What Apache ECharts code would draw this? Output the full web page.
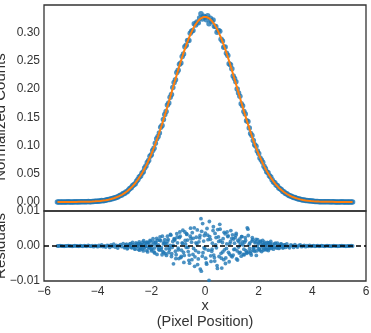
<!DOCTYPE html>
<html>
<head>
<meta charset="utf-8">
<script src="https://cdn.jsdelivr.net/npm/echarts@6/dist/echarts.min.js"></script>
<style>html,body{margin:0;padding:0;background:#fff;}#c{width:371px;height:333px;}</style>
</head>
<body>
<div id="c"></div>
<script>
const xGrid = [-5.5,-5.45,-5.4,-5.35,-5.3,-5.25,-5.2,-5.15,-5.1,-5.05,-5,-4.95,-4.9,-4.85,-4.8,-4.75,-4.7,-4.65,-4.6,-4.55,-4.5,-4.45,-4.4,-4.35,-4.3,-4.25,-4.2,-4.15,-4.1,-4.05,-4,
-3.95,-3.9,-3.85,-3.8,-3.75,-3.7,-3.65,-3.6,-3.55,-3.5,-3.45,-3.4,-3.35,-3.3,-3.25,-3.2,-3.15,-3.1,-3.05,-3,
-2.95,-2.9,-2.85,-2.8,-2.75,-2.7,-2.65,-2.6,-2.55,-2.5,-2.45,-2.4,-2.35,-2.3,-2.25,-2.2,-2.15,-2.1,-2.05,-2,
-1.95,-1.9,-1.85,-1.8,-1.75,-1.7,-1.65,-1.6,-1.55,-1.5,-1.45,-1.4,-1.35,-1.3,-1.25,-1.2,-1.15,-1.1,-1.05,-1,
-0.95,-0.9,-0.85,-0.8,-0.75,-0.7,-0.65,-0.6,-0.55,-0.5,-0.45,-0.4,-0.35,-0.3,-0.25,-0.2,-0.15,-0.1,-0.05,0,
0.05,0.1,0.15,0.2,0.25,0.3,0.35,0.4,0.45,0.5,0.55,0.6,0.65,0.7,0.75,0.8,0.85,0.9,0.95,1,
1.05,1.1,1.15,1.2,1.25,1.3,1.35,1.4,1.45,1.5,1.55,1.6,1.65,1.7,1.75,1.8,1.85,1.9,1.95,2,
2.05,2.1,2.15,2.2,2.25,2.3,2.35,2.4,2.45,2.5,2.55,2.6,2.65,2.7,2.75,2.8,2.85,2.9,2.95,3,
3.05,3.1,3.15,3.2,3.25,3.3,3.35,3.4,3.45,3.5,3.55,3.6,3.65,3.7,3.75,3.8,3.85,3.9,3.95,4,
4.05,4.1,4.15,4.2,4.25,4.3,4.35,4.4,4.45,4.5,4.55,4.6,4.65,4.7,4.75,4.8,4.85,4.9,4.95,5,5.05,5.1,5.15,5.2,5.25,5.3,5.35,5.4,5.45,5.5];

const fitY = [0,0,0,0,0,0,0,0,0.0001,0.0001,0.0001,0.0001,0.0001,0.0001,0.0001,0.0002,0.0002,0.0002,0.0003,0.0003,0.0003,0.0004,0.0005,0.0005,0.0006,0.0007,0.0008,0.0010,0.0011,0.0013,0.0015,
0.0017,0.0019,0.0022,0.0025,0.0028,0.0032,0.0036,0.0041,0.0046,0.0052,0.0059,0.0066,0.0074,0.0083,0.0092,0.0103,0.0115,0.0127,0.0141,0.0156,
0.0173,0.0191,0.0211,0.0232,0.0254,0.0279,0.0305,0.0334,0.0364,0.0396,0.0431,0.0468,0.0507,0.0548,0.0592,0.0639,0.0687,0.0739,0.0792,0.0848,
0.0907,0.0968,0.1031,0.1097,0.1165,0.1235,0.1307,0.1380,0.1456,0.1533,0.1611,0.1691,0.1771,0.1852,0.1934,0.2016,0.2098,0.2179,0.2260,0.2339,
0.2418,0.2494,0.2569,0.2642,0.2712,0.2779,0.2843,0.2904,0.2961,0.3014,0.3063,0.3107,0.3147,0.3182,0.3211,0.3236,0.3255,0.3269,0.3277,0.3280,
0.3277,0.3269,0.3255,0.3236,0.3211,0.3182,0.3147,0.3107,0.3063,0.3014,0.2961,0.2904,0.2843,0.2779,0.2712,0.2642,0.2569,0.2494,0.2418,0.2339,
0.2260,0.2179,0.2098,0.2016,0.1934,0.1852,0.1771,0.1691,0.1611,0.1533,0.1456,0.1380,0.1307,0.1235,0.1165,0.1097,0.1031,0.0968,0.0907,0.0848,
0.0792,0.0739,0.0687,0.0639,0.0592,0.0548,0.0507,0.0468,0.0431,0.0396,0.0364,0.0334,0.0305,0.0279,0.0254,0.0232,0.0211,0.0191,0.0173,0.0156,
0.0141,0.0127,0.0115,0.0103,0.0092,0.0083,0.0074,0.0066,0.0059,0.0052,0.0046,0.0041,0.0036,0.0032,0.0028,0.0025,0.0022,0.0019,0.0017,0.0015,
0.0013,0.0011,0.0010,0.0008,0.0007,0.0006,0.0005,0.0005,0.0004,0.0003,0.0003,0.0003,0.0002,0.0002,0.0002,0.0001,0.0001,0.0001,0.0001,0.0001,0.0001,0.0001,0,0,0,0,0,0,0,0];

const dataY = [0,0,0.0001,0,0,-0.0001,0,0,0.0002,0.0001,0.0001,0,0.0001,0.0002,0.0001,0.0002,0.0001,0.0003,0.0003,0.0002,0.0004,0.0004,0.0004,0.0007,0.0006,0.0006,0.0009,0.0008,0.0012,0.0013,0.0013,
0.0019,0.0018,0.0025,0.0023,0.0028,0.0029,0.0038,0.0042,0.0042,0.0055,0.0058,0.0071,0.0071,0.0085,0.0086,0.0104,0.0119,0.0125,0.0148,0.0151,
0.0176,0.0183,0.0212,0.0238,0.0250,0.0289,0.0303,0.0325,0.0369,0.0396,0.0443,0.0461,0.0510,0.0534,0.0600,0.0638,0.0698,0.0733,0.0808,0.0838,
0.0911,0.0951,0.1040,0.1119,0.1162,0.1223,0.1322,0.1355,0.1462,0.1551,0.1603,0.1719,0.1752,0.1854,0.1904,0.2029,0.2119,0.2164,0.2295,0.2333,
0.2442,0.2461,0.2578,0.2624,0.2752,0.2775,0.2860,0.2863,0.2989,0.3025,0.3039,0.3159,0.3134,0.3188,0.3174,0.3259,0.3333,0.3240,0.3291,0.3272,
0.3229,0.3300,0.3157,0.3255,0.3196,0.3226,0.3114,0.3110,0.3007,0.3040,0.3023,0.2883,0.2853,0.2740,0.2747,0.2635,0.2596,0.2449,0.2431,0.2361,
0.2234,0.2187,0.2129,0.2002,0.1931,0.1872,0.1742,0.1703,0.1602,0.1557,0.1438,0.1428,0.1312,0.1214,0.1179,0.1091,0.1016,0.0987,0.0905,0.0858,
0.0779,0.0743,0.0703,0.0631,0.0593,0.0537,0.0516,0.0463,0.0444,0.0394,0.0355,0.0340,0.0301,0.0287,0.0247,0.0234,0.0216,0.0185,0.0176,0.0152,
0.0147,0.0125,0.0110,0.0106,0.0093,0.0079,0.0078,0.0065,0.0056,0.0054,0.0049,0.0039,0.0036,0.0034,0.0026,0.0026,0.0021,0.0021,0.0016,0.0015,
0.0014,0.0010,0.0010,0.0009,0.0006,0.0006,0.0006,0.0005,0.0003,0.0003,0.0004,0.0003,0.0002,0.0001,0.0002,0.0002,0.0001,0.0001,0,0.0001,0.0001,0.0002,0,0,-0.0001,0,0,0,0.0001,0];

const residY = [0,0,0.0001,0,0,-0.0001,0,0,0.0001,0,0,-0.0001,0,0.0001,0,0,-0.0001,0.0001,0,-0.0001,0.0001,0,-0.0001,0.0002,0,-0.0001,0.0001,-0.0002,0.0001,0,-0.0002,
0.0002,-0.0001,0.0003,-0.0002,0,-0.0003,0.0002,0.0001,-0.0004,0.0003,-0.0001,0.0005,-0.0003,0.0002,-0.0006,0.0001,0.0004,-0.0002,0.0007,-0.0005,
0.0003,-0.0008,0.0001,0.0006,-0.0004,0.0010,-0.0002,-0.0009,0.0005,0,0.0012,-0.0007,0.0003,-0.0014,0.0008,-0.0001,0.0011,-0.0006,0.0016,-0.0010,
0.0004,-0.0017,0.0009,0.0022,-0.0003,-0.0012,0.0015,-0.0025,0.0006,0.0018,-0.0008,0.0028,-0.0019,0.0002,-0.0030,0.0013,0.0021,-0.0015,0.0035,-0.0006,
0.0024,-0.0033,0.0009,-0.0018,0.0040,-0.0004,0.0017,-0.0041,0.0028,0.0011,-0.0024,0.0052,-0.0013,0.0006,-0.0037,0.0023,0.0078,-0.0029,0.0014,-0.0008,
-0.0048,0.0031,-0.0098,0.0019,-0.0015,0.0044,-0.0033,0.0003,-0.0056,0.0026,0.0062,-0.0021,0.0010,-0.0039,0.0035,-0.0007,0.0027,-0.0045,0.0013,0.0022,
-0.0026,0.0008,0.0031,-0.0014,-0.0003,0.0020,-0.0029,0.0012,-0.0009,0.0024,-0.0018,0.0048,0.0005,-0.0021,0.0014,-0.0006,-0.0015,0.0019,-0.0002,0.0010,
-0.0013,0.0004,0.0016,-0.0008,0.0001,-0.0011,0.0009,-0.0005,0.0013,-0.0002,-0.0009,0.0006,-0.0004,0.0008,-0.0007,0.0002,0.0005,-0.0006,0.0003,-0.0004,
0.0006,-0.0002,-0.0005,0.0003,0.0001,-0.0004,0.0004,-0.0001,-0.0003,0.0002,0.0003,-0.0002,0,0.0002,-0.0002,0.0001,-0.0001,0.0002,-0.0001,0,
0.0001,-0.0001,0,0.0001,-0.0001,0,0.0001,0,-0.0001,0,0.0001,0,0,-0.0001,0,0.0001,0,0,-0.0001,0,0,0.0001,0,0,-0.0001,0,0,0,0.0001,0];

const xOff = [-2.975,-2.925,-2.875,-2.825,-2.775,-2.725,-2.675,-2.625,-2.575,-2.525,
-2.475,-2.425,-2.375,-2.325,-2.275,-2.225,-2.175,-2.125,-2.075,-2.025,
-1.975,-1.925,-1.875,-1.825,-1.775,-1.725,-1.675,-1.625,-1.575,-1.525,
-1.475,-1.425,-1.375,-1.325,-1.275,-1.225,-1.175,-1.125,-1.075,-1.025,
-0.975,-0.925,-0.875,-0.825,-0.775,-0.725,-0.675,-0.625,-0.575,-0.525,
-0.475,-0.425,-0.375,-0.325,-0.275,-0.225,-0.175,-0.125,-0.075,-0.025,
0.025,0.075,0.125,0.175,0.225,0.275,0.325,0.375,0.425,0.475,
0.525,0.575,0.625,0.675,0.725,0.775,0.825,0.875,0.925,0.975,
1.025,1.075,1.125,1.175,1.225,1.275,1.325,1.375,1.425,1.475,
1.525,1.575,1.625,1.675,1.725,1.775,1.825,1.875,1.925,1.975,
2.025,2.075,2.125,2.175,2.225,2.275,2.325,2.375,2.425,2.475,
2.525,2.575,2.625,2.675,2.725,2.775,2.825,2.875,2.925,2.975];

const residOff = [-0.0003,0.0005,-0.0006,0.0002,0.0007,-0.0005,0.0003,-0.0008,0.0009,-0.0001,
-0.0010,0.0006,-0.0003,0.0011,-0.0006,0.0002,-0.0013,0.0009,-0.0004,0.0014,
-0.0008,0.0012,-0.0020,0.0003,0.0016,-0.0009,0.0026,-0.0005,-0.0016,0.0010,
-0.0022,0.0007,0.0019,-0.0011,0.0031,-0.0004,-0.0051,0.0017,-0.0025,0.0009,
-0.0036,0.0028,-0.0012,0.0045,-0.0027,0.0006,0.0033,-0.0016,-0.0049,0.0021,
0.0038,-0.0007,-0.0031,0.0025,-0.0053,0.0012,-0.0066,0.0042,-0.0019,0.0030,
-0.0035,0.0050,-0.0012,0.0027,-0.0044,0.0008,-0.0026,0.0036,-0.0005,0.0047,
-0.0030,0.0015,-0.0063,0.0021,-0.0011,-0.0034,0.0040,-0.0018,0.0007,-0.0028,
0.0032,-0.0010,0.0024,-0.0037,0.0016,-0.0020,0.0005,0.0027,-0.0024,0.0011,
-0.0013,0.0052,-0.0017,0.0009,-0.0026,0.0018,-0.0004,0.0012,-0.0014,0.0006,
-0.0009,0.0013,-0.0003,-0.0012,0.0007,-0.0006,0.0010,-0.0008,0.0004,-0.0007,
0.0005,-0.0003,0.0008,-0.0006,0.0002,-0.0005,0.0006,-0.0002,-0.0004,0.0003];

const xOff2 = [-2.4875,-2.4375,-2.3875,-2.3375,-2.2875,-2.2375,-2.1875,-2.1375,-2.0875,-2.0375,
-1.9875,-1.9375,-1.8875,-1.8375,-1.7875,-1.7375,-1.6875,-1.6375,-1.5875,-1.5375,
-1.4875,-1.4375,-1.3875,-1.3375,-1.2875,-1.2375,-1.1875,-1.1375,-1.0875,-1.0375,
-0.9875,-0.9375,-0.8875,-0.8375,-0.7875,-0.7375,-0.6875,-0.6375,-0.5875,-0.5375,
-0.4875,-0.4375,-0.3875,-0.3375,-0.2875,-0.2375,-0.1875,-0.1375,-0.0875,-0.0375,
0.0125,0.0625,0.1125,0.1625,0.2125,0.2625,0.3125,0.3625,0.4125,0.4625,
0.5125,0.5625,0.6125,0.6625,0.7125,0.7625,0.8125,0.8625,0.9125,0.9625,
1.0125,1.0625,1.1125,1.1625,1.2125,1.2625,1.3125,1.3625,1.4125,1.4625,
1.5125,1.5625,1.6125,1.6625,1.7125,1.7625,1.8125,1.8625,1.9125,1.9625,
2.0125,2.0625,2.1125,2.1625,2.2125,2.2625,2.3125,2.3625,2.4125,2.4625];

const residOff2 = [0.0007,-0.0012,0.0004,-0.0009,0.0015,-0.0003,0.0010,-0.0017,0.0006,-0.0001,
-0.0014,0.0021,-0.0006,0.0011,-0.0024,0.0003,0.0017,-0.0010,0.0028,-0.0019,
0.0008,-0.0027,0.0014,-0.0005,0.0033,-0.0022,0.0002,0.0019,-0.0036,0.0025,
-0.0011,0.0040,-0.0030,0.0007,-0.0047,0.0016,0.0035,-0.0004,-0.0026,0.0051,
-0.0039,0.0022,-0.0058,0.0009,0.0046,-0.0018,0.0030,-0.0072,0.0064,-0.0005,
0.0037,-0.0052,0.0018,0.0070,-0.0028,-0.0009,0.0055,-0.0043,0.0024,-0.0064,
0.0013,0.0048,-0.0035,-0.0017,0.0039,-0.0050,0.0006,0.0029,-0.0023,0.0044,
-0.0031,0.0020,-0.0009,0.0036,-0.0040,0.0012,-0.0018,0.0027,0.0003,-0.0025,
0.0016,-0.0021,0.0030,-0.0007,-0.0015,0.0024,-0.0012,0.0009,-0.0027,0.0018,
-0.0008,0.0013,-0.0016,0.0005,0.0011,-0.0010,0.0002,-0.0013,0.0008,-0.0004];

const xTicks = [-6, 6, 2];
const topYLabel = 'Normalized Counts';
const botYLabel = 'Residuals';
const xLabel = 'x\n(Pixel Position)';

const zip = (xs, ys) => xs.map((x, i) => [x, ys[i]]);
const minus = v => (v < 0 ? '\u2212' : '') + Math.abs(v);
const TXT = '#333';
const FONT = 'Liberation Sans, Arial, sans-serif';

const chart = echarts.init(document.getElementById('c'), null, {renderer: 'canvas'});
chart.setOption({
  animation: false,
  backgroundColor: '#fff',
  textStyle: {fontFamily: FONT},
  grid: [
    {left: 44, top: 5, width: 322, height: 206, show: true, borderColor: '#333', borderWidth: 1.3, backgroundColor: 'transparent',
     containLabel: false, outerBoundsMode: 'none'},
    {left: 44, top: 211, width: 322, height: 70, show: true, borderColor: '#333', borderWidth: 1.3, backgroundColor: 'transparent',
     containLabel: false, outerBoundsMode: 'none'}
  ],
  xAxis: [
    {gridIndex: 0, type: 'value', min: xTicks[0], max: xTicks[1], interval: xTicks[2],
     axisLine: {show: false}, axisTick: {show: false}, axisLabel: {show: false}, splitLine: {show: false}},
    {gridIndex: 1, type: 'value', min: xTicks[0], max: xTicks[1], interval: xTicks[2],
     axisLine: {show: false}, axisTick: {show: false}, splitLine: {show: false},
     axisLabel: {fontSize: 12, color: TXT, margin: 5, fontFamily: FONT, formatter: v => minus(v)},
     name: xLabel, nameLocation: 'middle', nameGap: 17, nameMoveOverlap: false,
     nameTextStyle: {fontSize: 14.5, lineHeight: 16, color: TXT, fontFamily: FONT}}
  ],
  yAxis: [
    {gridIndex: 0, type: 'value', min: -0.016, max: 0.349, splitNumber: 7,
     axisLine: {show: false}, axisTick: {show: false}, splitLine: {show: false},
     axisLabel: {fontSize: 12, color: TXT, margin: 4, fontFamily: FONT, showMinLabel: false, showMaxLabel: false,
                 formatter: v => v.toFixed(2)},
     name: topYLabel, nameLocation: 'middle', nameGap: 36, nameMoveOverlap: false,
     nameTextStyle: {fontSize: 15, color: TXT, fontFamily: FONT, padding: [0, 18, 0, 0]}},
    {gridIndex: 1, type: 'value', min: -0.01, max: 0.01, interval: 0.01,
     axisLine: {show: false}, axisTick: {show: false}, splitLine: {show: false},
     axisLabel: {fontSize: 12, color: TXT, margin: 4, fontFamily: FONT,
                 formatter: v => (v < 0 ? '\u2212' : '') + Math.abs(v).toFixed(2)},
     name: botYLabel, nameLocation: 'middle', nameGap: 36, nameMoveOverlap: false,
     nameTextStyle: {fontSize: 15, color: TXT, fontFamily: FONT}}
  ],
  series: [
    {type: 'scatter', xAxisIndex: 0, yAxisIndex: 0, data: zip(xGrid, dataY), symbolSize: 5.5,
     itemStyle: {color: '#1f77b4'}, z: 2, silent: true},
    {type: 'line', xAxisIndex: 0, yAxisIndex: 0, data: zip(xGrid, fitY), showSymbol: false, smooth: false,
     lineStyle: {color: '#ff7f0e', width: 2}, z: 3, silent: true},
    {type: 'scatter', xAxisIndex: 1, yAxisIndex: 1,
     data: zip(xGrid, residY).concat(zip(xOff, residOff), zip(xOff2, residOff2)), symbolSize: 3.8,
     itemStyle: {color: '#1f77b4'}, z: 2, silent: true,
     markLine: {silent: true, symbol: ['none', 'none'], label: {show: false},
                lineStyle: {color: '#000', type: [5, 3], width: 1.7}, data: [{yAxis: 0}]}}
  ]
});
</script>
</body>
</html>
